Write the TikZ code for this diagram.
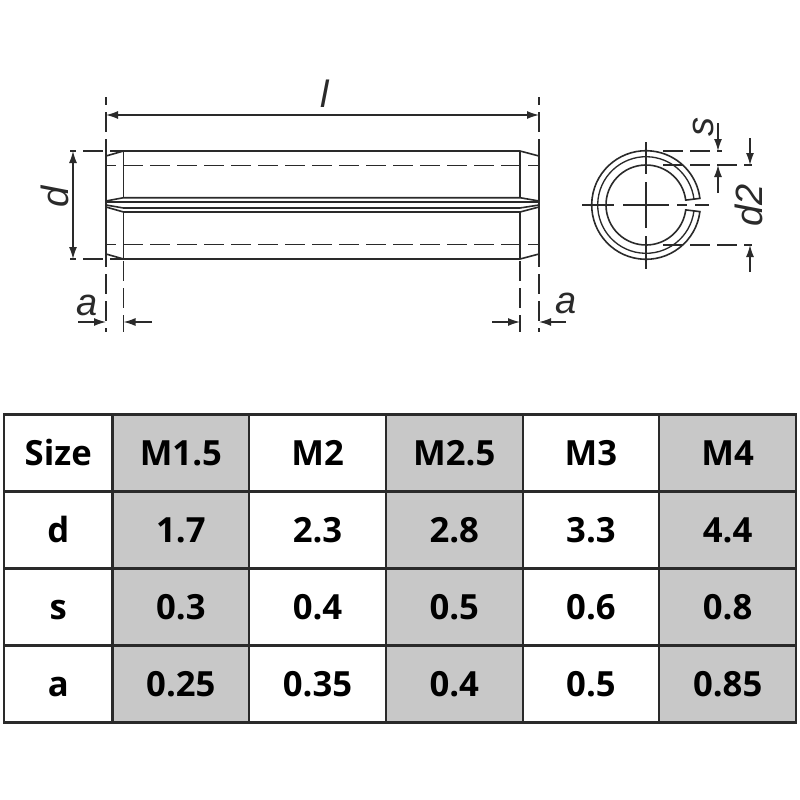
\documentclass[tikz,border=0pt]{standalone}
\usepackage{fontspec}
\setmainfont{Open Sans}
\newfontfamily\dimfont{Liberation Sans}
\usetikzlibrary{arrows.meta}
\definecolor{cellgray}{HTML}{C8C8C8}
\definecolor{inkdark}{HTML}{2A2A2A}
\tikzset{
  partline/.style={draw=inkdark, line width=1.2pt},
  thinline/.style={draw=inkdark, line width=1pt},
  hiddenline/.style={thinline, dash pattern=on 15pt off 5.25pt},
  centerline/.style={thinline, dash pattern=on 24pt off 6pt on 34.5pt off 6pt on 25pt off 6pt},
  dimline/.style={draw=inkdark, line width=1pt, -{Latex[length=9pt,width=6pt]}},
  dimboth/.style={dimline, {Latex[length=9pt,width=6pt]}-{Latex[length=9pt,width=6pt]}},
  dimlabel/.style={font=\dimfont\itshape\fontsize{28.5}{28.5}\selectfont, text=inkdark, inner sep=0pt},
  whitecell/.style={draw=inkdark, line width=1.6pt, fill=white, font=\bfseries\fontsize{26}{26}\selectfont,
    minimum height=57.75pt, inner sep=0pt, text=black, text height=18.6pt, text depth=0pt},
  graycell/.style={whitecell, fill=cellgray},
}
\begin{document}
\begin{tikzpicture}[x=0.75pt, y=-0.75pt]
  \useasboundingbox (0,0) rectangle (800,800);

  % pin outline
  \coordinate (pinTL) at (123.5,151);
  \coordinate (pinTR) at (520,151);
  \coordinate (pinBL) at (123.5,259);
  \coordinate (pinBR) at (520,259);
  \draw[partline] (106,156) -- (pinTL) -- (pinTR) -- (539,156) -- (539,254) -- (pinBR) -- (pinBL) -- (106,254) -- cycle;
  \draw[partline] (pinTL) -- (123.5,197.7) (pinBL) -- (123.5,212);
  \draw[partline] (pinTR) -- (520,197.7) (pinBR) -- (520,212);

  % slot
  \draw[partline] (106,201) -- (123.5,197.7) -- (520,197.7) -- (539,201);
  \draw[partline] (106,207) -- (123.5,212) -- (520,212) -- (539,207);
  \draw[partline] (106,201.7) -- (539,201.7);
  \draw[partline] (106,205) -- (123.5,208) -- (520,208) -- (539,205);

  % hidden edges
  \draw[hiddenline, dash phase=7.5pt] (106,165.5) -- (539,165.5);
  \draw[hiddenline, dash phase=7.5pt] (106,244.5) -- (539,244.5);

  % extension lines
  \coordinate (lExtL) at (106,115);
  \coordinate (lExtR) at (539,115);
  \coordinate (aExtL) at (106,322);
  \coordinate (bExtL) at (123.5,322);
  \coordinate (aExtR) at (539,322);
  \coordinate (bExtR) at (520,322);
  \draw[hiddenline, dash phase=9pt] (106,97) -- (106,332);
  \draw[hiddenline, dash phase=9pt] (539,97) -- (539,332);
  \draw[hiddenline] (123.5,261) -- (123.5,332);
  \draw[hiddenline] (520,261) -- (520,332);
  \draw[hiddenline] (83,151) -- (pinTL);
  \draw[hiddenline] (83,259) -- (pinBL);
  \draw[thinline] (70,151) -- (76,151);
  \draw[thinline] (70,259) -- (76,259);

  % dimensions on the pin
  \coordinate (dTop) at (73,151);
  \coordinate (dBot) at (73,259);
  \coordinate (aTailL) at (78,322);
  \coordinate (bTailL) at (152,322);
  \coordinate (bTailR) at (492,322);
  \coordinate (aTailR) at (566,322);
  \draw[dimboth] (lExtL) -- (lExtR);
  \draw[dimboth] (dTop) -- (dBot);
  \draw[dimline] (aTailL) -- (aExtL);
  \draw[dimline] (bTailL) -- (bExtL);
  \draw[dimline] (bTailR) -- (bExtR);
  \draw[dimline] (aTailR) -- (aExtR);

  \node[dimlabel] (lengthLabel) at (325,94) {l};
  \node[dimlabel, rotate=90] (diaLabel) at (55,197) {d};
  \node[dimlabel] (chamferLabelL) at (87,305) {a};
  \node[dimlabel] (chamferLabelR) at (566,303) {a};

  % end view
  \coordinate (ring) at (646,205);
  \draw[partline] ([shift={(7:54.3)}]ring) arc[start angle=7, end angle=353, radius=54.3]
    -- ([shift={(353:40)}]ring) arc[start angle=353, end angle=7, radius=40] -- cycle;
  \draw[thinline] ([shift={(7:48.3)}]ring) arc[start angle=7, end angle=353, radius=48.3];
  \draw[centerline] (646,142) -- (646,269);
  \draw[thinline, dash pattern=on 24pt off 6.75pt on 34.5pt off 6pt on 7.5pt off 6pt on 10.5pt off 6pt] (582,205) -- (709,205);

  % dimensions on the end view
  \coordinate (sTop) at (718,151);
  \coordinate (sBot) at (718,165);
  \coordinate (sTailTop) at (718,123);
  \coordinate (sTailBot) at (718,193);
  \coordinate (dTwoTop) at (750,165);
  \coordinate (dTwoBot) at (750,245);
  \coordinate (dTwoTailTop) at (750,138);
  \coordinate (dTwoTailBot) at (750,272);
  \draw[hiddenline] (663,151) -- (722,151);
  \draw[hiddenline] (663,165) -- (752,165);
  \draw[hiddenline] (663,245) -- (752,245);
  \draw[dimline] (sTailTop) -- (sTop);
  \draw[dimline] (sTailBot) -- (sBot);
  \draw[dimline] (dTwoTailTop) -- (dTwoTop);
  \draw[dimline] (dTwoTailBot) -- (dTwoBot);
  \node[dimlabel, rotate=90] (wallLabel) at (703,127) {s};
  \node[dimlabel, rotate=90] (boreLabel) at (749,205) {d2};

  % size table
  \foreach \rowy/\rowid/\rowvals in {453/size/{Size,M1.5,M2,M2.5,M3,M4},
      530/d/{d,1.7,2.3,2.8,3.3,4.4},
      607/s/{s,0.3,0.4,0.5,0.6,0.8},
      684/a/{a,0.25,0.35,0.4,0.5,0.85}} {
    \foreach \cellval [count=\i] in \rowvals {
      \ifnum\i=1
        \node[whitecell, minimum width=81.4pt] (\rowid-\i) at (58.25,\rowy) {\cellval};
      \else
        \ifodd\i\def\cellstyle{whitecell}\else\def\cellstyle{graycell}\fi
        \node[\cellstyle, minimum width=102.5pt] (\rowid-\i) at ({112.5+136.7*(\i-2)+68.35},\rowy) {\cellval};
      \fi
    }
  }
\end{tikzpicture}
\end{document}
